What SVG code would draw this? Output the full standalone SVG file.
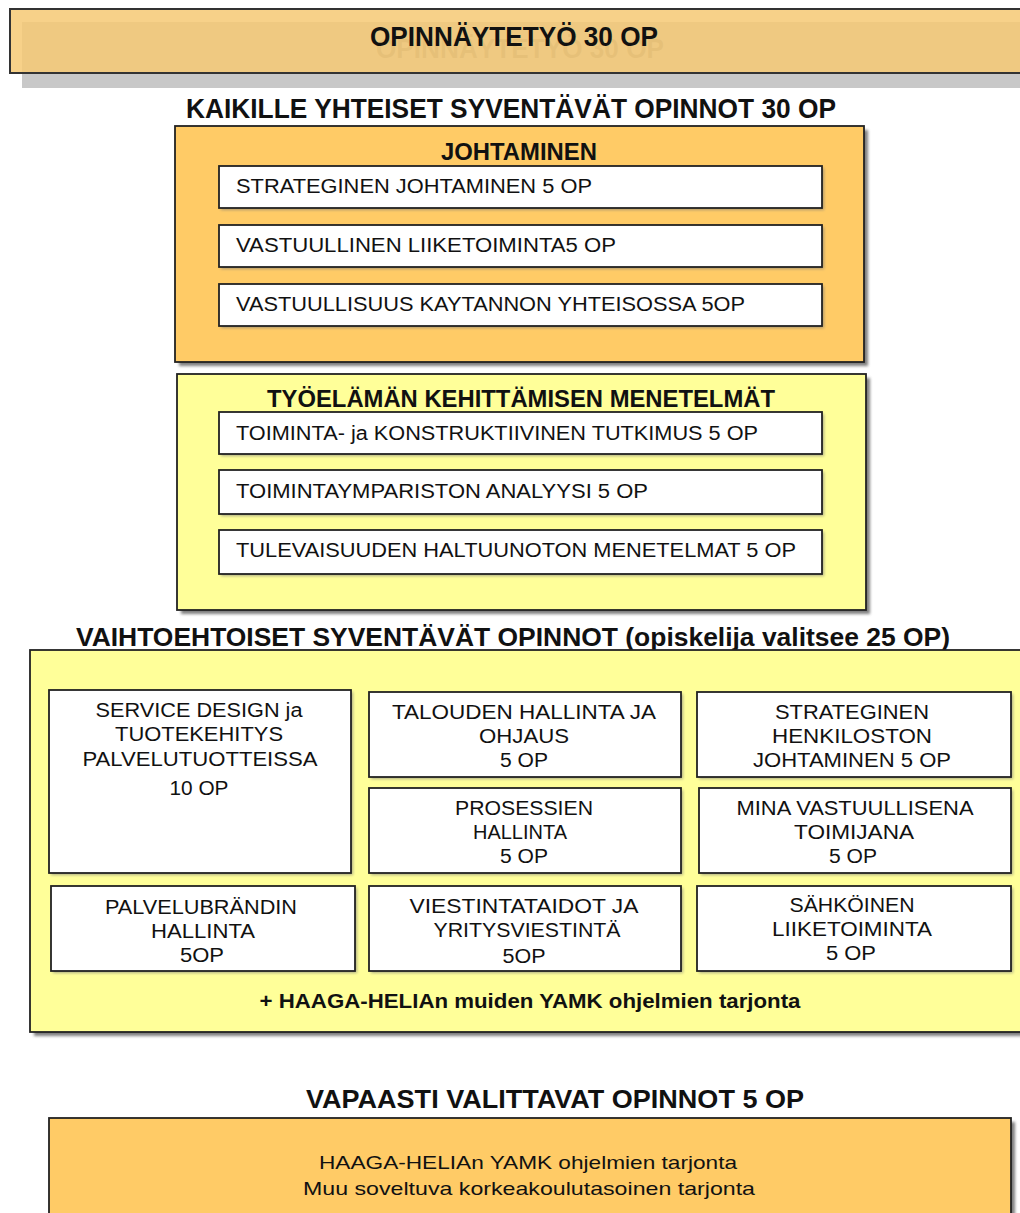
<svg xmlns="http://www.w3.org/2000/svg" width="1020" height="1213" viewBox="0 0 1020 1213">
<defs>
<filter id="sh" x="-5%" y="-5%" width="110%" height="110%"><feGaussianBlur stdDeviation="1.5"/></filter>
<clipPath id="cpV"><rect x="370" y="949" width="310" height="20"/></clipPath>
</defs>
<style>
text{font-family:"Liberation Sans Narrow","Liberation Sans",Arial,sans-serif;fill:#111}
.b{font-weight:bold}
.h1{font-size:28px;font-weight:bold}
.h2{font-size:23px;font-weight:bold}
.it{font-size:20px}
.g{font-size:20px;text-anchor:middle}
.sm{font-size:19px;text-anchor:middle}
.or{fill:#FFCB66;stroke:#222;stroke-width:1.8}
.ye{fill:#FFFF99;stroke:#222;stroke-width:1.8}
.wh{fill:#fff;stroke:#222;stroke-width:1.8}
.shd{fill:#555;opacity:0.75;filter:url(#sh)}
.shs{fill:#777;opacity:0.6;filter:url(#sh)}
</style>
<rect width="1020" height="1213" fill="#fff"/>

<g id="thesis">
<rect x="22" y="22" width="1010" height="66" fill="#C8C8C8"/>
<text x="520" y="58" class="h1" text-anchor="middle" textLength="288" lengthAdjust="spacingAndGlyphs" style="fill:#8a8a8a">OPINNÄYTETYÖ 30 OP</text>
<rect x="10" y="9" width="1020" height="64" fill="#F6C976" fill-opacity="0.86" stroke="#333" stroke-width="2"/>
<text x="514" y="46" class="h1" text-anchor="middle" textLength="288" lengthAdjust="spacingAndGlyphs">OPINNÄYTETYÖ 30 OP</text>
</g>

<g id="common-title">
<text x="511" y="118" class="h1" text-anchor="middle" textLength="650" lengthAdjust="spacingAndGlyphs">KAIKILLE YHTEISET SYVENTÄVÄT OPINNOT 30 OP</text>
</g>

<g id="johtaminen">
<rect x="179" y="130" width="689" height="236" class="shd"/>
<rect x="175" y="126" width="689" height="236" class="or"/>
<text x="519" y="160" class="h2" text-anchor="middle" textLength="156" lengthAdjust="spacingAndGlyphs">JOHTAMINEN</text>
<rect x="221" y="168" width="603" height="42" class="shs"/>
<rect x="219" y="166" width="603" height="42" class="wh"/>
<text x="236" y="193" class="it" textLength="356" lengthAdjust="spacingAndGlyphs">STRATEGINEN JOHTAMINEN 5 OP</text>
<rect x="221" y="227" width="603" height="42" class="shs"/>
<rect x="219" y="225" width="603" height="42" class="wh"/>
<text x="236" y="252" class="it" textLength="380" lengthAdjust="spacingAndGlyphs">VASTUULLINEN LIIKETOIMINTA5 OP</text>
<rect x="221" y="286" width="603" height="42" class="shs"/>
<rect x="219" y="284" width="603" height="42" class="wh"/>
<text x="236" y="311" class="it" textLength="509" lengthAdjust="spacingAndGlyphs">VASTUULLISUUS KAYTANNON YHTEISOSSA 5OP</text>
</g>

<g id="tyoelama">
<rect x="181" y="378" width="689" height="236" class="shd"/>
<rect x="177" y="374" width="689" height="236" class="ye"/>
<text x="521" y="407" class="h2" text-anchor="middle" textLength="508" lengthAdjust="spacingAndGlyphs">TYÖELÄMÄN KEHITTÄMISEN MENETELMÄT</text>
<rect x="221" y="414" width="603" height="42" class="shs"/>
<rect x="219" y="412" width="603" height="42" class="wh"/>
<text x="236" y="440" class="it" textLength="522" lengthAdjust="spacingAndGlyphs">TOIMINTA- ja KONSTRUKTIIVINEN TUTKIMUS 5 OP</text>
<rect x="221" y="472" width="603" height="44" class="shs"/>
<rect x="219" y="470" width="603" height="44" class="wh"/>
<text x="236" y="498" class="it" textLength="412" lengthAdjust="spacingAndGlyphs">TOIMINTAYMPARISTON ANALYYSI 5 OP</text>
<rect x="221" y="532" width="603" height="44" class="shs"/>
<rect x="219" y="530" width="603" height="44" class="wh"/>
<text x="236" y="557" class="it" textLength="560" lengthAdjust="spacingAndGlyphs">TULEVAISUUDEN HALTUUNOTON MENETELMAT 5 OP</text>
</g>

<g id="optional">
<text x="513" y="646" class="h2" style="font-size:26px" text-anchor="middle" textLength="874" lengthAdjust="spacingAndGlyphs">VAIHTOEHTOISET SYVENTÄVÄT OPINNOT (opiskelija valitsee 25 OP)</text>
<rect x="34" y="654" width="1000" height="382" class="shd"/>
<rect x="30" y="650" width="1000" height="382" class="ye"/>

<g id="service-design">
<rect x="51" y="692" width="302" height="183" class="shs"/>
<rect x="49" y="690" width="302" height="183" class="wh"/>
<text x="199" y="717" class="g" textLength="207" lengthAdjust="spacingAndGlyphs">SERVICE DESIGN ja</text>
<text x="199" y="741" class="g" textLength="168" lengthAdjust="spacingAndGlyphs">TUOTEKEHITYS</text>
<text x="200" y="766" class="g" textLength="235" lengthAdjust="spacingAndGlyphs">PALVELUTUOTTEISSA</text>
<text x="199" y="795" class="g" textLength="59" lengthAdjust="spacingAndGlyphs">10 OP</text>
</g>
<g id="talous">
<rect x="371" y="694" width="312" height="85" class="shs"/>
<rect x="369" y="692" width="312" height="85" class="wh"/>
<text x="524" y="719" class="g" textLength="264" lengthAdjust="spacingAndGlyphs">TALOUDEN HALLINTA JA</text>
<text x="524" y="743" class="g" textLength="90" lengthAdjust="spacingAndGlyphs">OHJAUS</text>
<text x="524" y="767" class="g" textLength="48" lengthAdjust="spacingAndGlyphs">5 OP</text>
</g>
<g id="henkilosto">
<rect x="699" y="694" width="314" height="85" class="shs"/>
<rect x="697" y="692" width="314" height="85" class="wh"/>
<text x="852" y="719" class="g" textLength="154" lengthAdjust="spacingAndGlyphs">STRATEGINEN</text>
<text x="852" y="743" class="g" textLength="160" lengthAdjust="spacingAndGlyphs">HENKILOSTON</text>
<text x="852" y="767" class="g" textLength="198" lengthAdjust="spacingAndGlyphs">JOHTAMINEN 5 OP</text>
</g>
<g id="prosessit">
<rect x="371" y="790" width="312" height="85" class="shs"/>
<rect x="369" y="788" width="312" height="85" class="wh"/>
<text x="524" y="815" class="g" textLength="138" lengthAdjust="spacingAndGlyphs">PROSESSIEN</text>
<text x="520" y="839" class="g" textLength="94" lengthAdjust="spacingAndGlyphs">HALLINTA</text>
<text x="524" y="863" class="g" textLength="48" lengthAdjust="spacingAndGlyphs">5 OP</text>
</g>
<g id="mina">
<rect x="701" y="790" width="312" height="85" class="shs"/>
<rect x="699" y="788" width="312" height="85" class="wh"/>
<text x="855" y="815" class="g" textLength="237" lengthAdjust="spacingAndGlyphs">MINA VASTUULLISENA</text>
<text x="854" y="839" class="g" textLength="120" lengthAdjust="spacingAndGlyphs">TOIMIJANA</text>
<text x="853" y="863" class="g" textLength="48" lengthAdjust="spacingAndGlyphs">5 OP</text>
</g>
<g id="palvelubrandi">
<rect x="53" y="888" width="304" height="85" class="shs"/>
<rect x="51" y="886" width="304" height="85" class="wh"/>
<text x="201" y="914" class="g" textLength="192" lengthAdjust="spacingAndGlyphs">PALVELUBRÄNDIN</text>
<text x="203" y="938" class="g" textLength="104" lengthAdjust="spacingAndGlyphs">HALLINTA</text>
<text x="202" y="962" class="g" textLength="44" lengthAdjust="spacingAndGlyphs">5OP</text>
</g>
<g id="viestinta">
<rect x="371" y="888" width="312" height="85" class="shs"/>
<rect x="369" y="886" width="312" height="85" class="wh"/>
<text x="524" y="913" class="g" textLength="229" lengthAdjust="spacingAndGlyphs">VIESTINTATAIDOT JA</text>
<text x="527" y="937" class="g" textLength="187" lengthAdjust="spacingAndGlyphs">YRITYSVIESTINTÄ</text>
<g clip-path="url(#cpV)"><text x="524" y="963" class="g" textLength="43" lengthAdjust="spacingAndGlyphs">5OP</text></g>
</g>
<g id="sahkoinen">
<rect x="699" y="888" width="314" height="85" class="shs"/>
<rect x="697" y="886" width="314" height="85" class="wh"/>
<text x="852" y="912" class="g" textLength="125" lengthAdjust="spacingAndGlyphs">SÄHKÖINEN</text>
<text x="852" y="936" class="g" textLength="160" lengthAdjust="spacingAndGlyphs">LIIKETOIMINTA</text>
<text x="851" y="960" class="g" textLength="50" lengthAdjust="spacingAndGlyphs">5 OP</text>
</g>
<text x="530" y="1008" class="b" style="font-size:20px" text-anchor="middle" textLength="541" lengthAdjust="spacingAndGlyphs">+ HAAGA-HELIAn muiden YAMK ohjelmien tarjonta</text>
</g>

<g id="free">
<text x="555" y="1108" class="h2" style="font-size:26px" text-anchor="middle" textLength="498" lengthAdjust="spacingAndGlyphs">VAPAASTI VALITTAVAT OPINNOT 5 OP</text>
<rect x="53" y="1122" width="962" height="100" class="shd"/>
<rect x="49" y="1118" width="962" height="100" class="or"/>
<text x="528" y="1169" class="sm" textLength="418" lengthAdjust="spacingAndGlyphs">HAAGA-HELIAn YAMK ohjelmien tarjonta</text>
<text x="529" y="1195" class="sm" textLength="452" lengthAdjust="spacingAndGlyphs">Muu soveltuva korkeakoulutasoinen tarjonta</text>
</g>

<g id="connectors"></g>
</svg>
